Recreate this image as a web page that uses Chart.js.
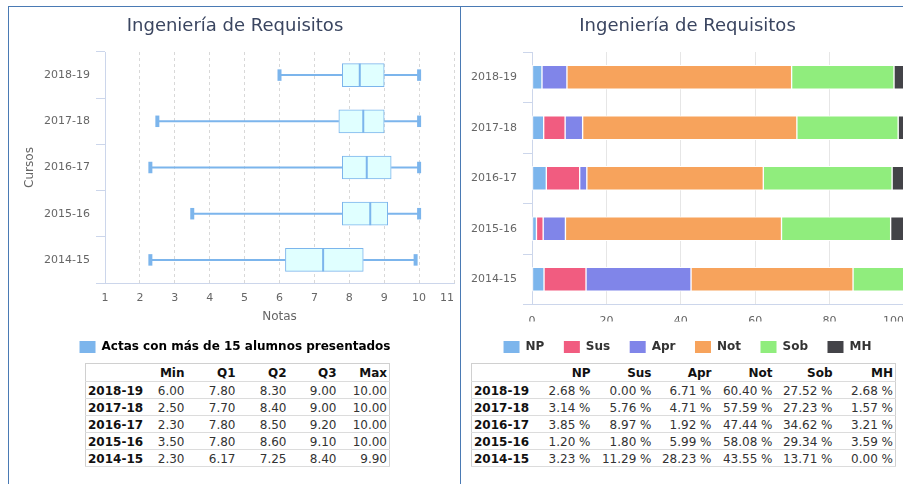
<!DOCTYPE html>
<html lang="es">
<head>
<meta charset="UTF-8">
<title>Ingeniería de Requisitos</title>
<script src="https://cdn.jsdelivr.net/npm/chart.js@4.4.1/dist/chart.umd.min.js"></script>
<style>
  html, body { margin: 0; padding: 0; width: 903px; height: 484px; overflow: hidden; background: #fff; font-family: 'DejaVu Sans', sans-serif; }
  .panel { position: absolute; top: 6px; width: 451px; height: 600px; border: 1px solid #4a7ab4; }
  #panelIzq { left: 8px; }
  #panelDer { left: 460px; }
  .grafica { position: absolute; top: 7px; width: 451px; height: 356px; }
  #graficaIzq { left: 9px; }
  #graficaDer { left: 461px; }
  table.datos { position: absolute; top: 363px; border-collapse: collapse; table-layout: fixed; border: 1px solid #d0d0d0; font-size: 12px; color: #333; }
  table.datos th, table.datos td { padding: 2px 2px 0 0; text-align: right; border-bottom: 1px solid #dcdcdc; line-height: 14px; white-space: nowrap; overflow: visible; }
  table.datos th { font-weight: bold; color: #111; line-height: 15px; }
  table.datos td:first-child { text-align: left; font-weight: bold; color: #111; padding-left: 2px; }
  #tablaNotas { left: 85px; width: 304px; }
  #tablaPct { left: 471px; width: 424px; }
</style>
</head>
<body>
<div class="panel" id="panelIzq"></div>
<div class="panel" id="panelDer"></div>
<div class="grafica" id="graficaIzq"><canvas id="cajas"></canvas></div>
<div class="grafica" id="graficaDer"><canvas id="barras"></canvas></div>
<table class="datos" id="tablaNotas">
  <colgroup><col style="width:58px"><col style="width:43px"><col style="width:51px"><col style="width:51px"><col style="width:50px"><col style="width:51px"></colgroup>
</table>
<table class="datos" id="tablaPct">
  <colgroup><col style="width:61px"><col style="width:60px"><col style="width:61px"><col style="width:60px"><col style="width:61px"><col style="width:60px"><col style="width:61px"></colgroup>
</table>
<script>
// cursos académicos (de arriba abajo)
const cursos = ['2018-19', '2017-18', '2016-17', '2015-16', '2014-15'];

// resumen de notas por curso
const notaMin = [6.00, 2.50, 2.30, 3.50, 2.30];
const notaQ1  = [7.80, 7.70, 7.80, 7.80, 6.17];
const notaQ2  = [8.30, 8.40, 8.50, 8.60, 7.25];
const notaQ3  = [9.00, 9.00, 9.20, 9.10, 8.40];
const notaMax = [10.00, 10.00, 10.00, 10.00, 9.90];
const ejeNotas = [1, 11];

// porcentaje de calificaciones por curso
const pctNP  = [2.68, 3.14, 3.85, 1.20, 3.23];
const pctSus = [0.00, 5.76, 8.97, 1.80, 11.29];
const pctApr = [6.71, 4.71, 1.92, 5.99, 28.23];
const pctNot = [60.40, 57.59, 47.44, 58.08, 43.55];
const pctSob = [27.52, 27.23, 34.62, 29.34, 13.71];
const pctMH  = [2.68, 1.57, 3.21, 3.59, 0.00];
const ejePct = [0, 100];

const titulo = 'Ingeniería de Requisitos';
const azul = '#7cb5ec';
const lineaEje = '#ccd6eb';

Chart.defaults.font.family = "'DejaVu Sans', sans-serif";
Chart.defaults.color = '#666';

const tituloOpts = {
  display: true,
  text: titulo,
  color: '#3a4560',
  font: { size: 18, weight: 'normal' },
  padding: { top: 8.7, bottom: 14.7 }
};

// la última etiqueta del eje x se alinea a la derecha para no salirse
const ultimaEtiqueta = {
  id: 'ultimaEtiqueta',
  beforeDraw(chart) {
    const items = chart.scales.x.getLabelItems();
    if (items.length) items[items.length - 1].options.textAlign = 'right';
  }
};

// bigotes, mediana y extremos del diagrama de cajas
const bigotes = {
  id: 'bigotes',
  afterDatasetsDraw(chart) {
    const ctx = chart.ctx;
    const x = chart.scales.x;
    const meta = chart.getDatasetMeta(0);
    const linea = (x1, y1, x2, y2) => {
      ctx.beginPath();
      ctx.moveTo(x1, y1);
      ctx.lineTo(x2, y2);
      ctx.stroke();
    };
    ctx.save();
    ctx.strokeStyle = azul;
    meta.data.forEach((caja, i) => {
      const y = caja.y;
      const h = caja.height;
      const pMin = x.getPixelForValue(notaMin[i]);
      const pQ1 = x.getPixelForValue(notaQ1[i]);
      const pQ2 = x.getPixelForValue(notaQ2[i]);
      const pQ3 = x.getPixelForValue(notaQ3[i]);
      const pMax = x.getPixelForValue(notaMax[i]);
      ctx.lineWidth = 2;
      linea(pMin, y, pQ1, y);
      linea(pQ3, y, pMax, y);
      linea(pQ2, y - h / 2, pQ2, y + h / 2);
      ctx.lineWidth = 4;
      linea(pMin, y - h / 4, pMin, y + h / 4);
      linea(pMax, y - h / 4, pMax, y + h / 4);
    });
    ctx.restore();
  }
};

new Chart(document.getElementById('cajas'), {
  type: 'bar',
  data: {
    labels: cursos,
    datasets: [{
      label: 'Actas con más de 15 alumnos presentados',
      data: notaQ1.map((q, i) => [q, notaQ3[i]]),
      backgroundColor: '#e0ffff',
      borderColor: azul,
      borderWidth: 1,
      borderSkipped: false,
      barThickness: 23
    }]
  },
  options: {
    indexAxis: 'y',
    responsive: true,
    maintainAspectRatio: false,
    animation: false,
    layout: { padding: { left: 7, right: 6 } },
    plugins: {
      title: tituloOpts,
      tooltip: { enabled: false },
      legend: {
        position: 'bottom',
        labels: {
          boxWidth: 16,
          boxHeight: 12,
          padding: 4,
          color: '#333',
          font: { size: 12, weight: 'bold' },
          generateLabels: (chart) => [{
            text: chart.data.datasets[0].label,
            fillStyle: azul,
            strokeStyle: azul,
            lineWidth: 0,
            hidden: false,
            datasetIndex: 0
          }]
        }
      }
    },
    scales: {
      x: {
        type: 'linear',
        min: ejeNotas[0],
        max: ejeNotas[1],
        ticks: { stepSize: 1, padding: 9, font: { size: 11 } },
        grid: { color: '#d8d8d8', drawTicks: false },
        border: { color: lineaEje, dash: [3, 3] },
        title: { display: true, text: 'Notas', font: { size: 12 }, padding: { top: 0, bottom: 12.5 } },
        afterFit(s) { s.height = 54; s.paddingLeft = 0; s.paddingRight = 0; }
      },
      y: {
        ticks: { padding: 6, font: { size: 11 } },
        grid: { drawOnChartArea: false, tickLength: 9, color: lineaEje, offset: true },
        border: { color: lineaEje },
        title: { display: true, text: 'Cursos', font: { size: 12 }, padding: { top: 6.8, bottom: 0 } },
        afterFit(s) { s.width = 89; s.paddingTop = 0; s.paddingBottom = 0; }
      }
    }
  },
  plugins: [bigotes, ultimaEtiqueta]
});

const series = [
  ['NP', pctNP, '#7cb5ec'],
  ['Sus', pctSus, '#f15c80'],
  ['Apr', pctApr, '#8085e9'],
  ['Not', pctNot, '#f7a35c'],
  ['Sob', pctSob, '#90ed7d'],
  ['MH', pctMH, '#434348']
];

new Chart(document.getElementById('barras'), {
  type: 'bar',
  data: {
    labels: cursos,
    datasets: series.map(([nombre, valores, color]) => ({
      label: nombre,
      data: valores,
      backgroundColor: color,
      borderColor: '#fff',
      borderWidth: 1,
      borderSkipped: false,
      barThickness: 24
    }))
  },
  options: {
    indexAxis: 'y',
    responsive: true,
    maintainAspectRatio: false,
    animation: false,
    layout: { padding: { left: 10, right: 8 } },
    plugins: {
      title: tituloOpts,
      tooltip: { enabled: false },
      legend: {
        position: 'bottom',
        labels: {
          boxWidth: 16,
          boxHeight: 12,
          padding: 19.5,
          color: '#333',
          font: { size: 12, weight: 'bold' },
          generateLabels: (chart) => Chart.defaults.plugins.legend.labels.generateLabels(chart)
            .map(l => Object.assign(l, { lineWidth: 0, strokeStyle: l.fillStyle }))
        }
      }
    },
    scales: {
      x: {
        stacked: true,
        min: ejePct[0],
        max: ejePct[1],
        ticks: { stepSize: 20, padding: 10, font: { size: 11 } },
        grid: { color: '#e6e6e6', drawTicks: false },
        border: { color: lineaEje },
        afterFit(s) { s.height = 17; s.paddingLeft = 0; s.paddingRight = 0; }
      },
      y: {
        stacked: true,
        ticks: { padding: 6, font: { size: 11 } },
        grid: { drawOnChartArea: false, tickLength: 9, color: lineaEje, offset: true },
        border: { color: lineaEje },
        afterFit(s) { s.width = 61; s.paddingTop = 0; s.paddingBottom = 0; }
      }
    }
  },
  plugins: [ultimaEtiqueta]
});

// tablas de valores bajo cada gráfica
function llenarTabla(id, cabeceras, columnas, formato) {
  const tabla = document.getElementById(id);
  const cuerpo = document.createElement('tbody');
  let html = '<tr><th></th>' + cabeceras.map(c => `<th>${c}</th>`).join('') + '</tr>';
  cursos.forEach((curso, i) => {
    html += `<tr><td>${curso}</td>` + columnas.map(col => `<td>${formato(col[i])}</td>`).join('') + '</tr>';
  });
  cuerpo.innerHTML = html;
  tabla.appendChild(cuerpo);
}

llenarTabla('tablaNotas', ['Min', 'Q1', 'Q2', 'Q3', 'Max'],
  [notaMin, notaQ1, notaQ2, notaQ3, notaMax], v => v.toFixed(2));
llenarTabla('tablaPct', series.map(s => s[0]),
  series.map(s => s[1]), v => v.toFixed(2) + ' %');
</script>
</body>
</html>
